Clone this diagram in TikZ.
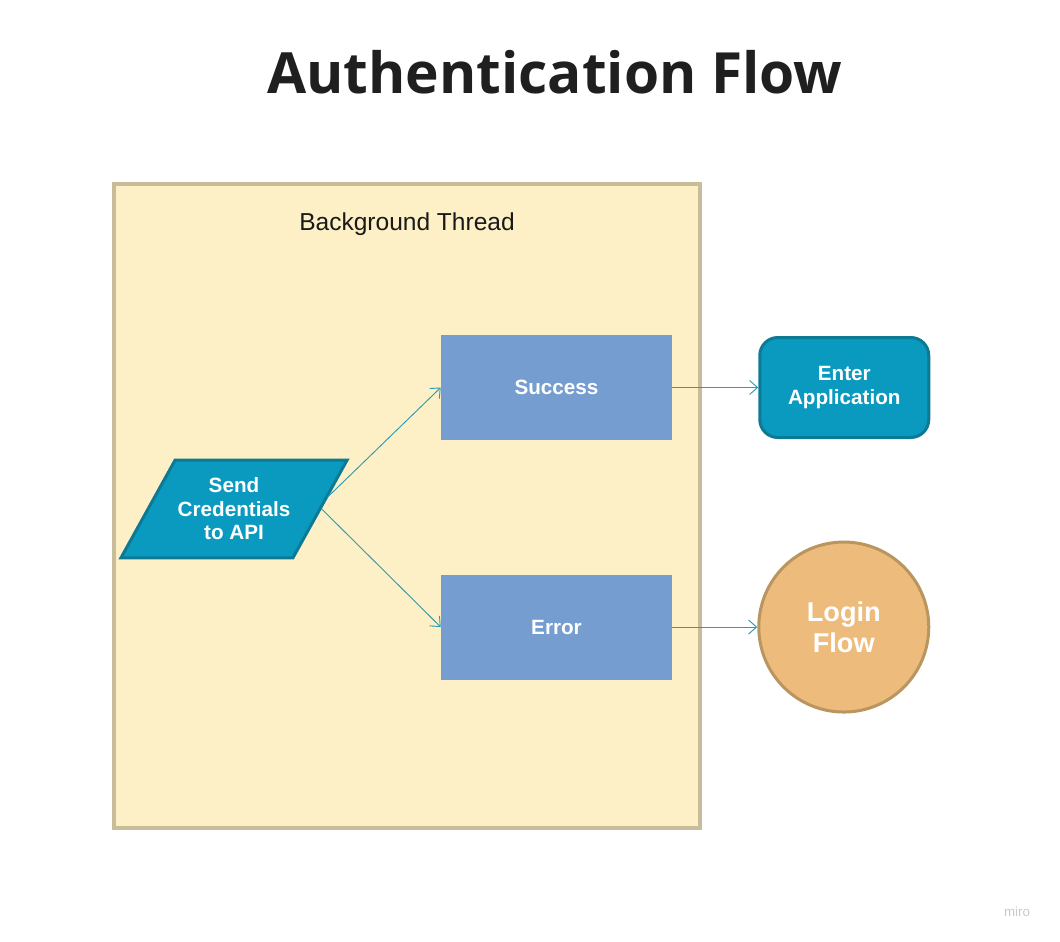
\documentclass[tikz,border=0pt]{standalone}
\usepackage{fontspec}
\setmainfont{Liberation Sans}
\newfontfamily\titlefont{Open Sans}
\usetikzlibrary{shapes.geometric,arrows.meta,positioning,calc}
\definecolor{threadfill}{RGB}{253,240,198}
\definecolor{threadline}{RGB}{200,189,152}
\definecolor{resultfill}{RGB}{117,157,207}
\definecolor{tealfill}{RGB}{10,154,191}
\definecolor{tealline}{RGB}{12,122,149}
\definecolor{loginfill}{RGB}{237,187,123}
\definecolor{loginline}{RGB}{185,149,96}
\definecolor{arrowline}{RGB}{43,156,180}
\definecolor{mirogray}{RGB}{200,200,200}
\newcommand{\resultbox}[2]{%
  \node[rectangle, fill=resultfill, text=white, minimum width=173.25pt,
        minimum height=78.75pt, inner sep=0pt,
        font=\bfseries\fontsize{15.5}{18}\selectfont, #2] (#1) }

\begin{document}
\begin{tikzpicture}[x=0.75pt, y=-0.75pt,
  flecha/.style={draw=arrowline, line width=0.7pt,
                 -{Straight Barb[length=6pt,width=10.5pt]}}]
\useasboundingbox (0,0) rectangle (1060,942);

\node[font=\titlefont\bfseries\fontsize{42.6}{50}\selectfont, text=black!88] (titulo)
  at (555,72) {Authentication Flow};

% background thread
\draw[fill=threadfill, draw=threadline, line width=3pt] (114,184) rectangle (700,828);
\node[font=\fontsize{18.4}{22}\selectfont, text=black!90] (hilo) at (407,224) {Background Thread};

\node[trapezium, trapezium left angle=61, trapezium right angle=119,
      fill=tealfill, draw=tealline, line width=2.25pt,
      inner xsep=2pt, inner ysep=13.3pt, align=center,
      text=white, font=\bfseries\fontsize{15.5}{17.6}\selectfont] (send)
  at (234,509) {Send\\Credentials\\to API};

\resultbox{success}{at={(556.5,387.5)}}{Success};
\resultbox{error}{below=100.5pt of success}{Error};

\node[rectangle, rounded corners=13.5pt, fill=tealfill, draw=tealline,
      line width=2.25pt, minimum width=126.75pt, minimum height=75pt,
      align=center, text=white, font=\bfseries\fontsize{15.5}{18}\selectfont,
      right=64.5pt of success] (enter) {Enter\\Application};

\node[circle, fill=loginfill, draw=loginline, line width=2.25pt,
      minimum size=127.5pt, inner sep=0pt, align=center, text=white,
      font=\bfseries\fontsize{20.4}{23.2}\selectfont,
      right=63.75pt of error] (login) {Login\\Flow};

\node[font=\fontsize{10}{12}\selectfont, text=mirogray] (miro) at (1017,912) {miro};

\draw[flecha] ($(send.east)+(6,-12)$) -- (success.west);
\draw[flecha] (send.east) -- (error.west);
\draw[flecha] (success.east) -- (enter.west);
\draw[flecha] (error.east) -- (login.west);

\end{tikzpicture}
\end{document}
